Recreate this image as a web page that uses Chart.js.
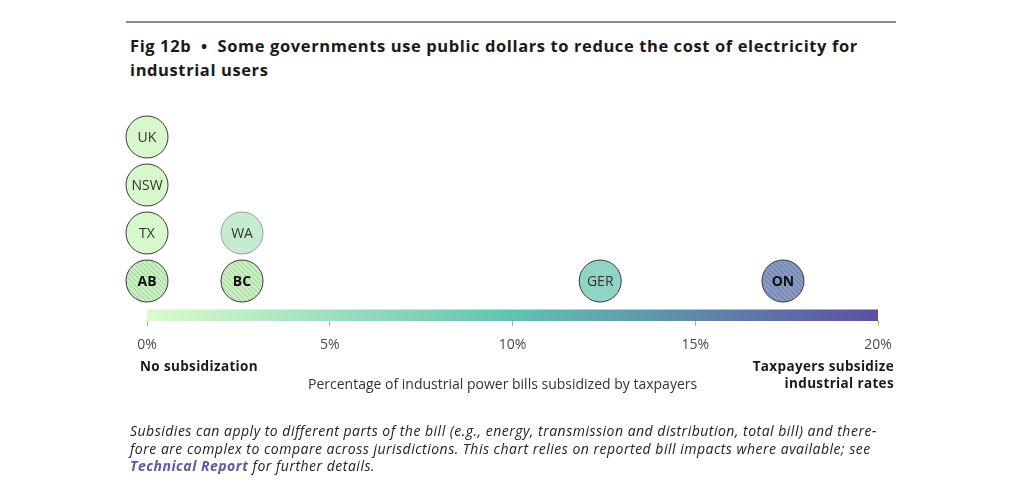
<!DOCTYPE html>
<html>
<head>
<meta charset="utf-8">
<script src="https://cdn.jsdelivr.net/npm/chart.js@4/dist/chart.umd.min.js"></script>
<style>
  html, body { margin: 0; padding: 0; background: #fff; }
  body { width: 1024px; height: 488px; position: relative; overflow: hidden; font-family: "Open Sans", sans-serif; color: #1c1c1c; }
  #chart { position: absolute; left: 0; top: 0; }
  .rule { position: absolute; left: 126px; top: 21px; width: 770px; border-top: 2px solid #8c8c8c; }
  .title { position: absolute; left: 130px; top: 34px; width: 780px; font-weight: 700; font-size: 16.5px; line-height: 24px; letter-spacing: 0.6px; color: #1a1a1a; }
  .txt { position: absolute; font-size: 13.5px; line-height: 16.5px; letter-spacing: 0.35px; }
  .bold { font-weight: 700; color: #1a1a1a; }
  .note { position: absolute; left: 130px; top: 422px; width: 800px; font-style: italic; font-size: 14px; line-height: 17.5px; letter-spacing: 0.5px; color: #222; white-space: nowrap; }
  .note b { color: #5a5ba8; }
</style>
</head>
<body>
<div class="rule"></div>
<div class="title">Fig 12b &nbsp;•&nbsp; Some governments use public dollars to reduce the cost of electricity for<br>industrial users</div>
<canvas id="chart" width="1024" height="488"></canvas>
<div class="txt bold" style="left:140px; top:358px;">No subsidization</div>
<div class="txt" style="left:308px; top:376px; font-size:14px; letter-spacing:0; color:#333;">Percentage of industrial power bills subsidized by taxpayers</div>
<div class="txt bold" style="right:130px; top:358px; text-align:right;">Taxpayers subsidize<br>industrial rates</div>
<div class="note">Subsidies can apply to different parts of the bill (e.g., energy, transmission and distribution, total bill) and there-<br>fore are complex to compare across jurisdictions. This chart relies on reported bill impacts where available; see<br><b>Technical Report</b> for further details.</div>
<script>
// jurisdictions, listed bottom-up within each column
const jurisdictions = ["AB", "TX", "NSW", "UK", "BC", "WA", "GER", "ON"];
const subsidyPct = [0, 0, 0, 0, 2.6, 2.6, 12.4, 17.4];
const hatched = [true, false, false, false, true, false, false, true];
const xTicks = [0, 5, 10, 15, 20];

// stack circles that share a value
const rows = subsidyPct.map((v, i) => subsidyPct.slice(0, i).filter(w => w === v).length + 1);

const fills = {
  AB: "#c9efc1", TX: "#d6f8cb", NSW: "#d6f8cb", UK: "#d6f8cb",
  BC: "#c9efc1", WA: "#c6ecd0", GER: "#8fd4c5", ON: "#8899c2"
};
const hatchInk = { AB: "#9fcf9c", BC: "#9fcf9c", ON: "#6c7cab" };

function hatch(base, ink) {
  const c = document.createElement("canvas");
  c.width = 5; c.height = 5;
  const g = c.getContext("2d");
  g.fillStyle = base;
  g.fillRect(0, 0, 5, 5);
  g.strokeStyle = ink;
  g.lineWidth = 1;
  g.beginPath();
  g.moveTo(-1, -1); g.lineTo(6, 6);
  g.moveTo(-1, 4); g.lineTo(1, 6);
  g.moveTo(4, -1); g.lineTo(6, 1);
  g.stroke();
  return g.createPattern(c, "repeat");
}

const ctx = document.getElementById("chart").getContext("2d");
const pointFill = jurisdictions.map((j, i) => hatched[i] ? hatch(fills[j], hatchInk[j]) : fills[j]);
const pointBorder = jurisdictions.map(j => j === "WA" ? "#9c9c9c" : "#3a3a3a");

const gradientBar = {
  id: "gradientBar",
  beforeDatasetsDraw(chart) {
    const { ctx, chartArea, scales } = chart;
    const x0 = scales.x.getPixelForValue(xTicks[0]);
    const x1 = scales.x.getPixelForValue(xTicks[xTicks.length - 1]);
    const grad = ctx.createLinearGradient(x0, 0, x1, 0);
    grad.addColorStop(0, "#dafcca");
    grad.addColorStop(0.5, "#62c2b2");
    grad.addColorStop(1, "#5b51a1");
    ctx.save();
    ctx.fillStyle = grad;
    ctx.fillRect(x0, chartArea.bottom - 11.5, x1 - x0, 11.5);
    ctx.restore();
  }
};

const circleLabels = {
  id: "circleLabels",
  afterDatasetsDraw(chart) {
    const { ctx } = chart;
    const meta = chart.getDatasetMeta(0);
    ctx.save();
    ctx.textAlign = "center";
    ctx.textBaseline = "middle";
    meta.data.forEach((pt, i) => {
      ctx.font = (hatched[i] ? "700 " : "400 ") + "14px 'Open Sans', sans-serif";
      ctx.fillStyle = hatched[i] ? "#111" : "#333";
      ctx.fillText(jurisdictions[i], pt.x, pt.y + 1);
    });
    ctx.restore();
  }
};

new Chart(ctx, {
  type: "scatter",
  data: {
    datasets: [{
      data: subsidyPct.map((v, i) => ({ x: v, y: rows[i] })),
      clip: false,
      pointRadius: 21,
      pointHoverRadius: 21,
      pointBackgroundColor: pointFill,
      pointBorderColor: pointBorder,
      pointBorderWidth: 1
    }]
  },
  options: {
    responsive: false,
    animation: false,
    events: [],
    layout: { padding: { left: 147, right: 146, top: 101, bottom: 127 } },
    plugins: { legend: { display: false }, tooltip: { enabled: false } },
    scales: {
      x: {
        type: "linear",
        min: 0,
        max: 20,
        afterBuildTicks: s => { s.ticks = xTicks.map(v => ({ value: v })); },
        afterFit: s => { s.height = 40; },
        ticks: {
          callback: v => v + "%",
          color: "#4a4a4a",
          font: { family: "'Open Sans', sans-serif", size: 14 },
          padding: 11,
          maxRotation: 0
        },
        grid: { drawOnChartArea: false, drawTicks: true, tickLength: 5, tickColor: "#aaa" },
        border: { display: false }
      },
      y: { display: false, min: 0.1667, max: 4.75 }
    }
  },
  plugins: [gradientBar, circleLabels]
});
</script>
</body>
</html>
